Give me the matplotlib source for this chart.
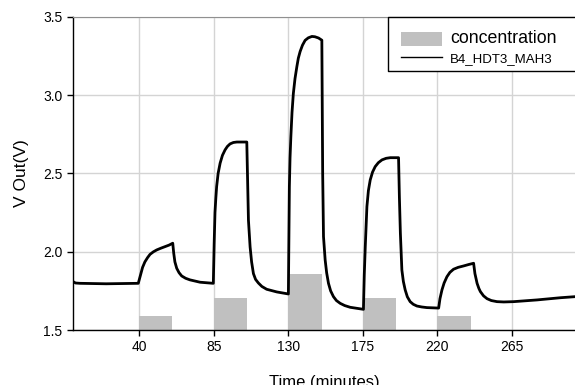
import numpy as np
import matplotlib.pyplot as plt
from matplotlib.patches import Rectangle

plt.rcParams["font.family"] = ["Liberation Sans", "DejaVu Sans"]

# concentration pulses (start minute, bar top in V units)
pulse_start = [40, 85, 130, 175, 220]
pulse_top = [1.59, 1.705, 1.86, 1.705, 1.59]
pulse_width = 20

# sensor output
time_min = [0, 1.5, 4.2, 20, 39.4, 40.2, 41.0, 42.0, 43.4, 45.0, 46.5, 48.5, 50.5, 53.0,
            55.5, 58.0, 60.2,
            60.8, 61.5, 62.6, 64.0, 65.6, 68.0, 70.6, 76.7, 84.7,
            85.2, 85.7, 86.2, 86.7, 87.6, 88.8, 90.2, 91.8, 93.2, 94.8, 96.8, 98.9, 104.9,
            105.5, 105.9, 106.4, 106.9, 107.8, 108.9, 110.2, 111.9, 114.0, 116.9, 123.0, 130.0,
            130.3, 130.6, 131.0, 131.5, 132.2, 133.0, 134.0, 135.1, 136.0, 137.1, 138.5,
            140.1, 142.0, 144.2, 146.0, 148.2, 150.2,
            150.7, 151.2, 151.7, 152.2, 153.1, 154.2, 155.5, 157.2, 159.0, 161.3, 164.0,
            167.3, 175.3,
            175.8, 176.4, 177.4, 178.3, 179.4, 180.8, 182.4, 184.3, 186.5, 189.0, 191.5, 196.5,
            197.0, 197.6, 198.5, 199.4, 200.5, 201.8, 203.5, 205.4, 207.6, 210.5, 213.6, 220.7,
            221.5, 222.7, 224.0, 225.7, 227.5, 229.7, 232.5, 235.8, 238.8, 241.8,
            242.6, 243.9, 245.0, 245.9, 247.8, 249.9, 252.5, 255.9, 260.0, 266.0, 280.1,
            294.2, 303.3]
v_out = [1.809, 1.80, 1.798, 1.795, 1.798, 1.83, 1.862, 1.90, 1.935, 1.962, 1.983, 1.999,
         2.011, 2.022, 2.032, 2.042, 2.054,
         1.99, 1.935, 1.894, 1.866, 1.845, 1.83, 1.82, 1.805, 1.798,
         2.05, 2.25, 2.34, 2.416, 2.50, 2.565, 2.615, 2.65, 2.672, 2.688, 2.697, 2.70, 2.70,
         2.40, 2.20, 2.11, 2.03, 1.935, 1.86, 1.823, 1.80, 1.778, 1.76, 1.743, 1.73,
         2.10, 2.416, 2.60, 2.735, 2.89, 3.01, 3.105, 3.18, 3.235, 3.278, 3.318,
         3.349, 3.365, 3.374, 3.372, 3.364, 3.35,
         2.50, 2.096, 2.02, 1.947, 1.865, 1.798, 1.75, 1.713, 1.688, 1.67, 1.656,
         1.645, 1.632,
         1.85, 2.03, 2.288, 2.39, 2.458, 2.508, 2.543, 2.568, 2.586, 2.596, 2.60, 2.60,
         2.35, 2.118, 1.883, 1.81, 1.756, 1.712, 1.681, 1.664, 1.653, 1.647, 1.643, 1.64,
         1.70, 1.756, 1.80, 1.84, 1.868, 1.888, 1.900, 1.909, 1.918, 1.926,
         1.86, 1.798, 1.765, 1.745, 1.718, 1.70, 1.688, 1.681, 1.679, 1.681, 1.692,
         1.706, 1.713]

fig = plt.figure(figsize=(5.75, 3.85), dpi=100)
ax_w, ax_h = 502, 313.3
ax = fig.add_axes([73 / 575, 1 - 330 / 385, ax_w / 575, ax_h / 385])

base = 1.5
bars = ax.bar(pulse_start, np.array(pulse_top) - base, bottom=base, width=pulse_width,
              align="edge", color="#c0c0c0", label="concentration", zorder=2)
line, = ax.plot(time_min, v_out, color="black", linewidth=2.0, label="B4_HDT3_MAH3",
                zorder=3)

ax.set_xlim(0, 303)
ax.set_ylim(1.5, 3.5)
ax.set_xticks([40, 85, 130, 175, 220, 265])
ax.set_yticks([1.5, 2.0, 2.5, 3.0, 3.5])
ax.set_yticklabels(["1.5", "2.0", "2.5", "3.0", "3.5"])
ax.tick_params(direction="out", length=4, width=1, labelsize=10, colors="black")
ax.grid(True, color="#d4d4d4", linewidth=1.0, zorder=0)
ax.set_axisbelow(True)
ax.spines["right"].set_visible(False)
ax.spines["top"].set_color("#909090")
ax.spines["left"].set_linewidth(1.0)
ax.spines["bottom"].set_linewidth(1.0)

ax.set_ylabel("V Out(V)", fontsize=12.5, labelpad=10)
ax.set_xlabel("Time (minutes)", fontsize=12, labelpad=15)

# legend box runs off the right edge: white fill plus an open frame
fx0 = (388 - 73) / ax_w
fy0 = 1 - (71 - 16.7) / ax_h
ax.add_patch(Rectangle((fx0, fy0), 1.1 - fx0, 1 - fy0, transform=ax.transAxes,
                       facecolor="white", edgecolor="none", clip_on=False, zorder=5))
ax.plot([1.1, fx0, fx0, 1.1], [1.0, 1.0, fy0, fy0], transform=ax.transAxes,
        color="black", linewidth=1.0, solid_capstyle="butt", clip_on=False, zorder=5.5)

leg = ax.legend([bars, line], ["concentration", "B4_HDT3_MAH3"],
                loc="upper left", bbox_to_anchor=((390.5 - 73) / ax_w, 1 - 3 / ax_h),
                fontsize=9.5, frameon=False, borderaxespad=0, borderpad=0.8,
                handlelength=3.1, handletextpad=0.6, handleheight=1.2, labelspacing=0.3)
leg.set_zorder(6)
leg.get_texts()[0].set_fontsize(12.8)
leg.get_lines()[0].set_linewidth(1.0)

fig.savefig("out.png", dpi=100)
